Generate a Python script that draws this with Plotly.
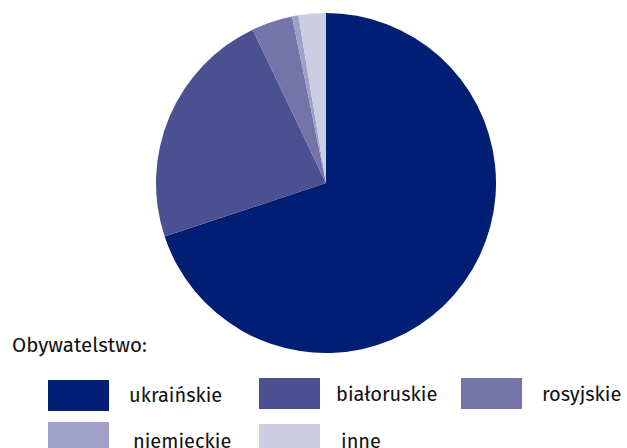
import plotly.graph_objects as go

# ==================== DANE ====================
kategorie = ["ukraińskie", "białoruskie", "rosyjskie", "niemieckie", "inne"]
udzialy = [69.9, 23.0, 3.9, 0.6, 2.6]
kolory = ["#001E74", "#4B5190", "#7474A9", "#A09FC8", "#CCCCE2"]

W, H = 627, 448
FONT = "Fira Sans, Open Sans, Noto Sans, sans-serif"


def px_x(x):
    return x / W


def px_y(y):
    return 1 - y / H


fig = go.Figure(go.Pie(
    labels=kategorie, values=udzialy,
    marker=dict(colors=kolory, line=dict(width=0)),
    sort=False, direction="clockwise", rotation=0,
    textinfo="none", hoverinfo="label+percent",
    showlegend=False,
    domain=dict(x=[px_x(156), px_x(496)], y=[px_y(353), px_y(13)]),
))

# legenda rysowana ręcznie (duże prostokąty jak w oryginale)
# (x_lewy, y_gora, x_tekst, y_srodek_tekstu) w pikselach
pozycje = [(48, 380, 127, 395), (259, 378, 334, 394), (461, 378, 540, 394),
           (48, 422, 131, 441), (259, 424, 339, 441)]
shapes, annotations = [], []
for (x0, y0, xt, yt), nazwa, kol in zip(pozycje, kategorie, kolory):
    shapes.append(dict(type="rect", xref="paper", yref="paper",
                       x0=px_x(x0), x1=px_x(x0 + 61),
                       y0=px_y(y0 + 31), y1=px_y(y0),
                       fillcolor=kol, line=dict(width=0)))
    annotations.append(dict(text=nazwa, xref="paper", yref="paper",
                            x=px_x(xt), y=px_y(yt),
                            xanchor="left", yanchor="middle", showarrow=False,
                            font=dict(size=20, color="#111111", family=FONT)))

annotations.append(dict(text="Obywatelstwo:", xref="paper", yref="paper",
                        x=px_x(10), y=px_y(345), xanchor="left", yanchor="middle",
                        showarrow=False,
                        font=dict(size=20.5, color="#111111", family=FONT)))

fig.update_layout(
    width=W, height=H,
    margin=dict(l=0, r=0, t=0, b=0),
    paper_bgcolor="white", plot_bgcolor="white",
    shapes=shapes, annotations=annotations,
)

# bez marginesu strony, bez pasków przewijania i bez paska narzędzi
fig.write_html("out.html", config={"displayModeBar": False},
               post_script="document.body.style.margin='0';"
                           "document.body.style.overflow='hidden';")
